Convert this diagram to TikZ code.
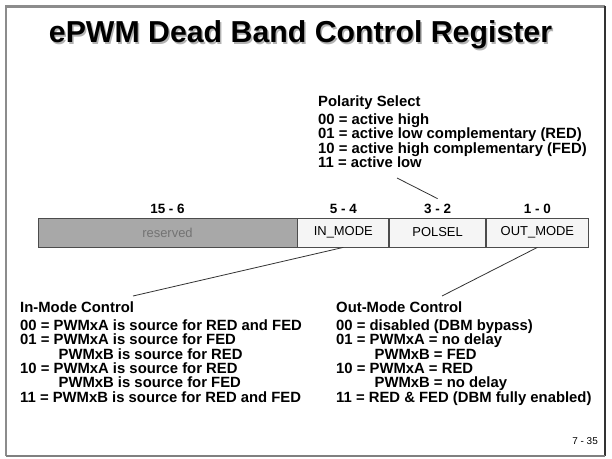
\documentclass[tikz,border=0pt]{standalone}
\usepackage{fontspec}
\setmainfont{Liberation Sans}
\usetikzlibrary{positioning}

\tikzset{
  field/.style = {draw=black!70, line width=0.8bp, fill=black!4, minimum height=29bp,
                  inner sep=0pt, font=\fontsize{13}{13}\selectfont},
  bits/.style  = {font=\bfseries\fontsize{13.5}{13.5}\selectfont, inner sep=1bp},
  desc/.style  = {font=\bfseries\fontsize{14.9}{14.4}\selectfont, align=left,
                  inner sep=0pt, anchor=north west},
  lead/.style  = {draw=black!80, line width=0.8bp}
}
\newcommand{\indentcode}{\phantom{01 = }\hspace{5bp}}

\begin{document}
\begin{tikzpicture}[x=1bp, y=-1bp]
  \path[use as bounding box, fill=white] (0,0) rectangle (612,459);

  % slide frame
  \draw[black!45, line width=2.5bp] (6,456) -- (6,6.5) -- (605,6.5);
  \draw[black!80, line width=2bp] (605,6.5) -- (605,456);
  \draw[black!50, line width=2.5bp] (6,456) -- (605,456);

  % title with shadow
  \node[font=\bfseries\fontsize{30.4}{30}\selectfont, anchor=base, text=black!30] at (302,44.5) {ePWM Dead Band Control Register};
  \node[font=\bfseries\fontsize{30.4}{30}\selectfont, anchor=base] (title) at (300.5,43) {ePWM Dead Band Control Register};

  % register fields
  \node[field, fill=black!34, text=black!55, minimum width=259bp] (reserved) at (167.5,232.5) {reserved};
  \node[field, minimum width=91bp, right=0pt of reserved] (inmode) {IN\_MODE};
  \node[field, minimum width=96bp, right=0pt of inmode] (polsel) {POLSEL};
  \node[field, minimum width=102bp, right=0pt of polsel] (outmode) {OUT\_MODE};

  % bit numbers
  \node[bits, above=3bp of reserved] (b156) {15 - 6};
  \node[bits, above=3bp of inmode] (b54) {5 - 4};
  \node[bits, above=3bp of polsel] (b32) {3 - 2};
  \node[bits, above=3bp of outmode] (b10) {1 - 0};

  % descriptions
  \node[desc] (poldesc) at (318,95.5) {Polarity Select\\[3.6bp]
    00 = active high\\
    01 = active low complementary (RED)\\
    10 = active high complementary (FED)\\
    11 = active low};
  \node[desc] (indesc) at (20,301.5) {In-Mode Control\\[3.6bp]
    00 = PWMxA is source for RED and FED\\
    01 = PWMxA is source for FED\\
    \indentcode PWMxB is source for RED\\
    10 = PWMxA is source for RED\\
    \indentcode PWMxB is source for FED\\
    11 = PWMxB is source for RED and FED};
  \node[desc] (outdesc) at (336,301.5) {Out-Mode Control\\[3.6bp]
    00 = disabled (DBM bypass)\\
    01 = PWMxA = no delay\\
    \indentcode PWMxB = FED\\
    10 = PWMxA = RED\\
    \indentcode PWMxB = no delay\\
    11 = RED \& FED (DBM fully enabled)};

  % leader lines
  \coordinate (polpt) at (397,178);
  \coordinate (inpt) at (133,296);
  \coordinate (outpt) at (442,296);
  \draw[lead] (polpt) -- ([yshift=4bp]b32.north);
  \draw[lead] (inmode.south) -- (inpt);
  \draw[lead] (outmode.south) -- (outpt);

  % page number
  \node[font=\fontsize{10}{10}\selectfont, anchor=base east, inner sep=0pt] (pagenum) at (598,444) {7 - 35};
\end{tikzpicture}
\end{document}
